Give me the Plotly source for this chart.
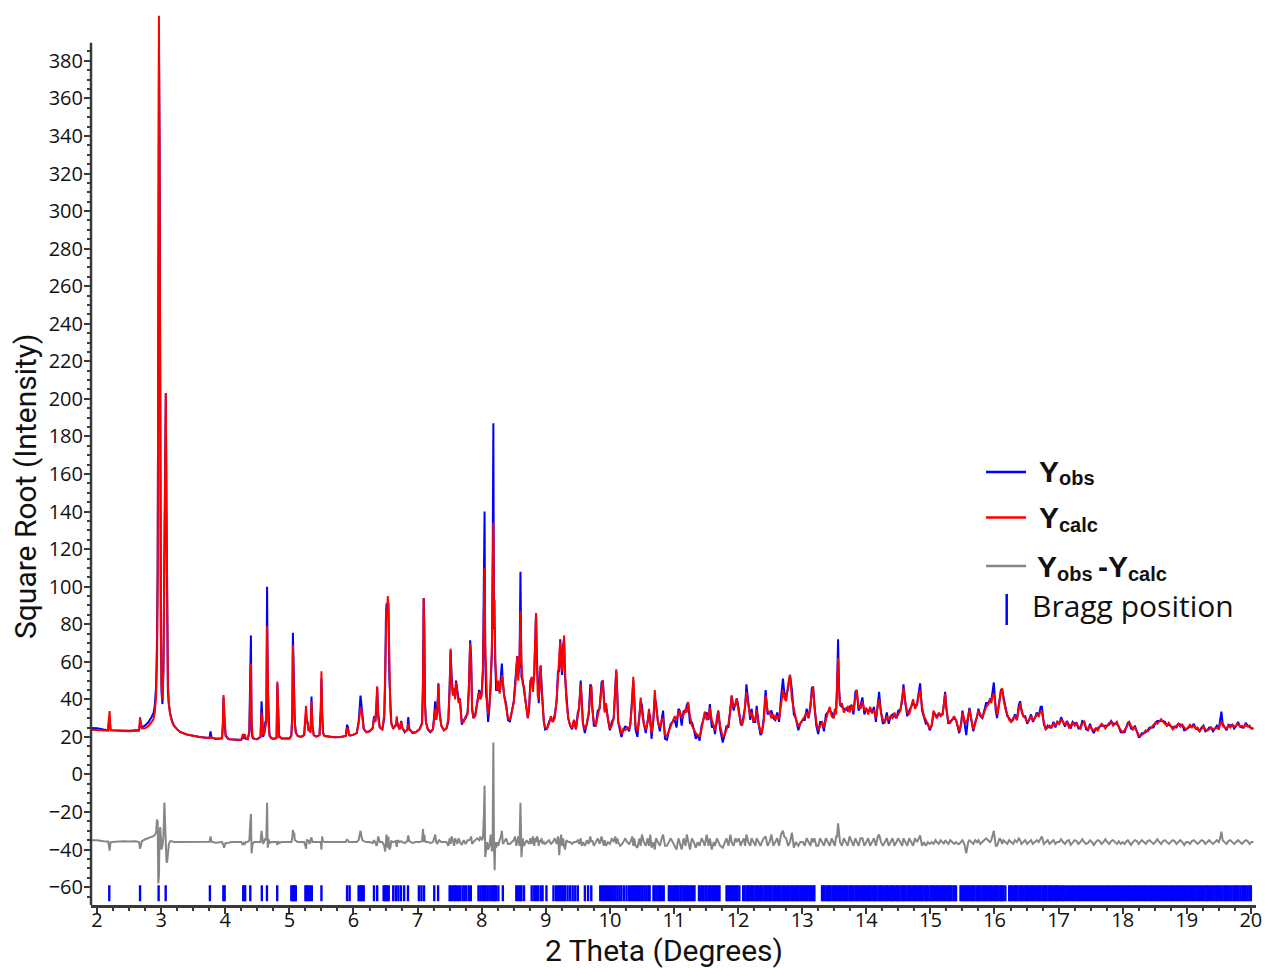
import plotly.graph_objects as go

# ---------------------------------------------------------------------------
# Rietveld refinement profile: 2-theta grid, calculated intensity and the
# observed-minus-calculated residual (sqrt-intensity units)
# ---------------------------------------------------------------------------
two_theta = [
    # 1.9 - 2.9
    1.905, 2.00, 2.10, 2.17, 2.185, 2.195, 2.21, 2.30, 2.40, 2.50,
    2.60, 2.655, 2.67, 2.685, 2.70, 2.75, 2.80, 2.85, 2.88, 2.90,
    # 2.9 - 3.3
    2.92, 2.935, 2.945, 2.955, 2.965, 2.975, 2.985, 2.995, 3.005, 3.02,
    3.035, 3.05, 3.062, 3.072, 3.082, 3.092, 3.105, 3.12, 3.14, 3.17,
    3.20, 3.25, 3.30,
    # 3.3 - 4.05
    3.40, 3.50, 3.60, 3.70, 3.755, 3.77, 3.785, 3.85, 3.90, 3.95,
    3.962, 3.972, 3.98, 3.992, 4.005, 4.05,
    # 4.05 - 5.0
    4.10, 4.20, 4.25, 4.275, 4.29, 4.305, 4.32, 4.35, 4.375, 4.39,
    4.40, 4.41, 4.425, 4.45, 4.50, 4.55, 4.565, 4.575, 4.59, 4.61,
    4.625, 4.64, 4.652, 4.662, 4.675, 4.69, 4.72, 4.77, 4.80, 4.812,
    4.825, 4.84, 4.88, 4.95, 5.00,
    # 5.0 - 6.0
    5.03, 5.045, 5.055, 5.065, 5.075, 5.085, 5.10, 5.13, 5.18, 5.23,
    5.25, 5.26, 5.272, 5.285, 5.30, 5.315, 5.33, 5.345, 5.36, 5.38,
    5.42, 5.47, 5.49, 5.50, 5.51, 5.525, 5.55, 5.60, 5.70, 5.80,
    5.88, 5.90, 5.915, 5.93, 5.95, 6.00,
    # 6.0 - 7.0
    6.05, 6.08, 6.095, 6.11, 6.125, 6.14, 6.16, 6.20, 6.25, 6.30,
    6.32, 6.34, 6.36, 6.37, 6.385, 6.41, 6.45, 6.48, 6.495, 6.505,
    6.515, 6.525, 6.535, 6.545, 6.56, 6.575, 6.59, 6.62, 6.66, 6.675,
    6.69, 6.72, 6.745, 6.76, 6.80, 6.84, 6.855, 6.87, 6.92, 6.97,
    # 7.0 - 8.0
    7.03, 7.07, 7.085, 7.095, 7.105, 7.115, 7.13, 7.16, 7.20, 7.24,
    7.26, 7.275, 7.29, 7.31, 7.325, 7.34, 7.37, 7.41, 7.45, 7.48,
    7.50, 7.515, 7.53, 7.55, 7.57, 7.585, 7.60, 7.62, 7.64, 7.66,
    7.69, 7.72, 7.75, 7.78, 7.80, 7.82, 7.835, 7.85, 7.87, 7.90,
    7.93, 7.96, 7.98,
    # 8.0 - 8.7
    8.00, 8.02, 8.035, 8.045, 8.055, 8.07, 8.085, 8.10, 8.12, 8.14,
    8.16, 8.172, 8.182, 8.192, 8.202, 8.212, 8.225, 8.24, 8.26, 8.28,
    8.30, 8.315, 8.33, 8.35, 8.38, 8.41, 8.44, 8.47, 8.50, 8.52,
    8.54, 8.555, 8.57, 8.59, 8.605, 8.62, 8.64, 8.66, 8.68, 8.70,
    # 8.7 - 9.5
    8.72, 8.74, 8.76, 8.78, 8.80, 8.82, 8.835, 8.848, 8.86, 8.875,
    8.89, 8.905, 8.92, 8.935, 8.95, 8.97, 8.99, 9.02, 9.05, 9.08,
    9.11, 9.14, 9.17, 9.19, 9.21, 9.225, 9.24, 9.255, 9.27, 9.285,
    9.30, 9.32, 9.35, 9.38, 9.41, 9.44, 9.47, 9.50,
    # 9.5 - 10.3
    9.52, 9.545, 9.56, 9.58, 9.61, 9.64, 9.67, 9.695, 9.71, 9.725,
    9.75, 9.78, 9.81, 9.84, 9.87, 9.89, 9.905, 9.92, 9.94, 9.97,
    10.00, 10.03, 10.06, 10.085, 10.10, 10.115, 10.13, 10.16, 10.18, 10.21,
    10.24, 10.27, 10.30,
    # 10.3 - 11.0
    10.32, 10.35, 10.365, 10.38, 10.40, 10.43, 10.46, 10.48, 10.50, 10.53,
    10.56, 10.59, 10.61, 10.63, 10.65, 10.68, 10.70, 10.72, 10.75, 10.78,
    10.81, 10.83, 10.86, 10.89, 10.92, 10.95, 10.98,
    # 11 - 12
    11.01, 11.04, 11.07, 11.09, 11.12, 11.15, 11.18, 11.20, 11.22, 11.25,
    11.28, 11.31, 11.34, 11.37, 11.40, 11.43, 11.46, 11.48, 11.51, 11.54,
    11.56, 11.59, 11.62, 11.64, 11.67, 11.69, 11.72, 11.76, 11.79, 11.82,
    11.85, 11.88, 11.90, 11.93, 11.96, 11.98,
    # 12 - 13
    12.01, 12.04, 12.06, 12.09, 12.11, 12.13, 12.16, 12.19, 12.21, 12.24,
    12.27, 12.29, 12.32, 12.35, 12.37, 12.40, 12.43, 12.46, 12.49, 12.52,
    12.55, 12.58, 12.61, 12.64, 12.67, 12.70, 12.72, 12.75, 12.78, 12.81,
    12.84, 12.87, 12.90, 12.94, 12.97,
    # 13 - 14
    13.01, 13.04, 13.07, 13.10, 13.13, 13.15, 13.17, 13.19, 13.22, 13.25,
    13.28, 13.31, 13.34, 13.37, 13.40, 13.43, 13.46, 13.49, 13.51, 13.53,
    13.545, 13.56, 13.575, 13.59, 13.62, 13.65, 13.68, 13.71, 13.74, 13.77,
    13.80, 13.83, 13.85, 13.88, 13.91, 13.94, 13.97,
    # 14 - 15
    14.00, 14.03, 14.06, 14.09, 14.12, 14.15, 14.18, 14.20, 14.23, 14.26,
    14.29, 14.32, 14.35, 14.38, 14.41, 14.44, 14.47, 14.50, 14.53, 14.56,
    14.58, 14.61, 14.64, 14.67, 14.70, 14.73, 14.76, 14.79, 14.82, 14.84,
    14.87, 14.90, 14.93, 14.96, 14.99,
    # 15 - 16
    15.02, 15.05, 15.08, 15.10, 15.13, 15.16, 15.19, 15.21, 15.23, 15.25,
    15.28, 15.31, 15.34, 15.37, 15.40, 15.43, 15.45, 15.48, 15.50, 15.53,
    15.56, 15.59, 15.61, 15.64, 15.67, 15.70, 15.73, 15.75, 15.78, 15.81,
    15.84, 15.87, 15.90, 15.93, 15.95, 15.97, 15.99,
    # 16 - 17
    16.02, 16.04, 16.06, 16.08, 16.10, 16.12, 16.14, 16.17, 16.20, 16.23,
    16.26, 16.29, 16.32, 16.35, 16.38, 16.40, 16.42, 16.45, 16.48, 16.51,
    16.54, 16.57, 16.60, 16.63, 16.66, 16.69, 16.72, 16.74, 16.77, 16.80,
    16.83, 16.86, 16.89, 16.92, 16.95, 16.98,
    # 17 - 18
    17.01, 17.04, 17.07, 17.10, 17.13, 17.16, 17.19, 17.22, 17.25, 17.28,
    17.31, 17.34, 17.37, 17.40, 17.43, 17.46, 17.49, 17.52, 17.55, 17.58,
    17.61, 17.64, 17.67, 17.70, 17.73, 17.76, 17.79, 17.82, 17.85, 17.88,
    17.91, 17.94, 17.97,
    # 18 - 19
    18.00, 18.03, 18.06, 18.08, 18.10, 18.13, 18.16, 18.19, 18.22, 18.25,
    18.27, 18.30, 18.33, 18.36, 18.39, 18.42, 18.45, 18.48, 18.51, 18.54,
    18.57, 18.60, 18.63, 18.66, 18.69, 18.72, 18.75, 18.78, 18.81, 18.84,
    18.87, 18.90, 18.93, 18.96, 18.99,
    # 19 - 20.05
    19.02, 19.05, 19.08, 19.11, 19.14, 19.17, 19.20, 19.23, 19.26, 19.29,
    19.32, 19.35, 19.38, 19.41, 19.44, 19.47, 19.50, 19.52, 19.54, 19.56,
    19.59, 19.62, 19.65, 19.68, 19.71, 19.74, 19.77, 19.80, 19.83, 19.86,
    19.89, 19.92, 19.95, 19.98, 20.01, 20.04,
]

y_calc = [
    23.8, 23.6, 23.4, 23.3, 30.0, 33.8, 23.6, 23.2, 23.1, 23.0,
    23.2, 23.5, 30.5, 27.5, 24.5, 24.6, 25.8, 27.8, 29.5, 33.0,
    41.5, 60, 100, 250, 404, 330, 150, 75, 48, 39.5,
    55, 110, 190, 203, 150, 80, 48, 38, 32, 28,
    26, 24, 22.5,
    21.3, 20.5, 20.0, 19.6, 19.4, 20.0, 19.5, 19.2, 19.0, 19.3,
    27.0, 42.3, 35.0, 26.0, 21.0, 19.0,
    18.6, 18.3, 18.5, 21.5, 20.0, 21.5, 19.0, 18.8, 22, 45,
    59, 30, 20.5, 19.0, 18.8, 20, 33, 30, 21, 22,
    26, 28, 79, 50, 27, 21, 19.3, 19.0, 19.5, 49.5,
    34, 20.5, 19.2, 19.0, 19.2,
    20.5, 30, 69, 40, 38, 27, 22, 20.5, 20.0, 21,
    30, 36.5, 28, 27, 23, 25, 22, 39, 26, 21,
    20.2, 21, 35, 55, 32, 22, 20.5, 20.2, 19.8, 20.0,
    20.5, 25, 24, 21, 20.8, 21.2,
    22, 27, 31, 36, 34, 28, 24, 22.5, 23, 25,
    30, 28, 38, 47, 30, 25, 24, 32, 55, 80,
    87, 84, 95, 88, 55, 35, 27, 24.5, 26, 31,
    26, 24, 28, 25, 23, 23.5, 27, 24, 22.5, 22.5,
    24, 27, 45, 94, 75, 38, 28, 24, 23, 24,
    30, 35, 29, 36, 48, 33, 26, 23.5, 24.5, 30,
    45, 67, 50, 42, 46, 40, 49, 44, 38, 40,
    28, 28, 31, 32, 45, 70, 60, 36, 30, 31,
    37, 44, 40,
    42, 55, 90, 110, 70, 45, 38, 32, 37, 45,
    70, 110, 134, 80, 93, 60, 48, 45, 50, 43,
    48, 53, 50, 42, 36, 30, 29, 33, 38, 45,
    60, 63, 50, 60, 87, 60, 48, 47, 40, 34,
    30, 36, 48, 52, 44, 55, 72, 86, 60, 42,
    40, 48, 58, 45, 36, 28, 25, 24.5, 27, 31,
    28, 30, 40, 52, 62, 71, 58, 55, 66, 74,
    56, 40, 30, 26, 25, 29, 24, 32,
    36, 48, 40, 27, 24, 27, 33, 45, 47, 35,
    28, 26, 32, 36, 46, 50, 40, 33, 38, 29,
    24.5, 26, 30, 44, 56, 42, 28, 25, 21.5, 24,
    23.5, 25, 24,
    27, 40, 52, 38, 26, 23, 30, 41, 33, 27,
    24, 28, 35, 27, 22, 30, 45, 36, 28, 25,
    29, 30, 21, 20.5, 23, 25, 28,
    31, 29, 33, 34, 30, 32, 35, 33, 38.5, 31,
    26, 24, 22, 21, 20, 24, 30, 33.5, 29, 31,
    35.5, 29, 26, 23.5, 28, 34, 26, 20, 21, 24,
    27, 34, 42, 36, 37, 40.5,
    33, 29, 26, 30, 38, 44, 37, 31, 33, 28,
    30, 34.5, 27, 23, 22, 28, 42, 34, 33, 30,
    32, 29, 31, 30, 37, 45, 41, 39, 48, 53,
    40, 35, 30, 25.5, 27,
    29, 31, 33, 30, 38, 44, 46.8, 36, 28, 23.5,
    26, 28, 25, 30, 33, 36, 31, 30, 35, 32,
    45, 62, 45, 37, 38, 33, 35, 36, 33, 37,
    34, 42, 45, 36, 35, 39, 34,
    35, 32, 36, 33, 34, 30, 37, 40, 33, 29,
    28, 31, 29, 31, 30, 33, 30, 32, 34, 41,
    46, 38, 33, 32, 36, 40, 35, 37, 42, 45,
    36, 31, 29, 27, 24.5,
    26, 34, 31, 30, 33, 31, 32, 38, 43, 35,
    28, 27.5, 29, 31, 29, 26, 23, 27, 33, 29,
    27, 31, 34.5, 29, 24, 27, 31, 34, 32, 30,
    33, 36, 37, 40, 38, 42, 43,
    36, 32, 35, 40, 44, 46, 40, 35, 32, 29,
    28, 30, 31, 29, 35, 38, 35, 31, 30, 28,
    29, 31, 29, 30, 32, 31, 34, 33, 28, 24,
    25, 26, 25, 27, 26, 28,
    27, 29, 28, 26.5, 28, 25, 26, 28, 26, 27,
    25.5, 24.5, 27, 28, 25, 24, 26, 24, 23.5, 24.5,
    23.5, 25, 27, 26, 24.5, 26, 27.5, 28, 26, 27,
    28, 25, 23.5,
    22.5, 23.5, 25, 26.5, 28, 26, 24, 25, 22.5, 21,
    20.2, 21, 22, 23.5, 23, 24, 25, 26, 27.5, 27,
    28.5, 29.5, 28, 27, 26, 27.5, 25.5, 24, 25, 26,
    27, 25.5, 26.5, 25, 24,
    25, 26.5, 25, 26, 24.5, 25, 23, 24, 25.5, 24,
    23.5, 24, 25, 24, 24.5, 25, 24, 27, 28, 26,
    25, 24.5, 26, 25, 26.5, 25.5, 26, 27, 25.5, 26,
    25, 26.5, 25.5, 26, 24.5, 24.5,
]

y_resid = [
    1.0, 1.0, 0.5, 0.3, -2.0, -4.5, 0.0, 0.3, 0.4, 0.3,
    0.4, 0.0, -3.5, -1.5, 0.5, 1.5, 2.0, 2.8, 3.2, 3.8,
    5, 12, 11, -22, -18, 5, 8, 3, -4, -2,
    3, 21, 8, 0, -10, -11, -4, -1, 0.5, 0.5,
    0, 0, 0,
    0, 0, 0, 0, 0.2, 3.0, 0.2, -0.3, 0, 0,
    -1, -1.5, -3, -2, -0.5, -0.3,
    0, 0, 0, -1.5, -0.5, -1, 0, 0, 1, 10,
    15, -6, -1, 0, 0, 0, 6, 3, -1, 0.5,
    2, 1, 21, -3, 1.5, -0.5, 0, 0, 0, -1.5,
    0.5, -0.5, 0, 0, 0,
    0, 2, 6.5, 3, 5, 1, 0.5, 0, 0, 0,
    -2, -3.5, 1, 1, 0.5, -1, 1, 2.5, 0, 0,
    0, 0, 0, -4, 3, 0.3, 0, 0, 0, 0,
    0, 1.5, 1, 0, 0, 0,
    0, 1, 3, 6, 3, 1, 0.5, 0, 0, -0.5,
    1, 0, -2, -1, 3, 0, 0, -2, -5, 2,
    4, 0, -3, 3, -4, -3, 0.5, 0, 0.5, -2.5,
    1, 0, 0.5, 0, -0.5, 0.5, 3.5, 0.5, -0.5, 0,
    0, 0.5, 7, 0, 4, 1, 0, 0, -0.5, 0,
    2, 4, 0, -1, 0.5, 1, 0, 0, 0, -2,
    2, -1, 3, 1, -2, 2, 1, -1, 2, 0,
    -1.5, 1, -1, 1, 1, 1.5, 3, -1, 0, 1,
    2, 1, 3,
    1, 2, 15, 30, -8, -3, 0, -4, -2, 4,
    -5, 5, 53, -2, -15, 0, -3, 0, -2, 1,
    3, 6, -1, 0, 2, -1, -1, 0, 1, 3,
    -2, 0, 3, -2, 21, -8, 2, -2, 0, 1,
    0, -1, 2, -1, 3, -2, 2, 0, 3, 2,
    -2, 1, 0, 2, -1, 0, -1, 0, 1, -1,
    0, 2, -1, 3, -7, 1, 4, -2, 2, -2,
    -4, 1, 0, 0, -1, 0, 0, 1,
    -1, 2, -2, 0, -2, 1, -1, 3, 0, 1,
    -2, 0, 2, -1, 3, 0, -2, 1, -2, 0,
    -1, 2, 0, 3, -1, 2, 0, -2, -1.5, 0,
    2, 0, -1,
    0, 3, -2, 2, -2, -3, 2, -2, 4, 0,
    -2, 2, -2, 4, -3, 0, -4, 2, 0, -2,
    2, 4, -2, -2, 0, 2, 0,
    -2, -4, 2, 0, -4, 2, -2, 4, 0, -4,
    2, 0, -3, 0, -2, 2, 0, -2, 4, -2,
    2, -4, 0, -2, 2, 0, -2, -3, 0, 2,
    -2, 4, 0, -2, 2, 0,
    2, -2, 0, 2, -2, 4, 0, -2, 2, 0,
    -2, 2, 0, -2, 0, 2, 3, -2, 0, 4,
    -2, 0, 2, -2, 4, 6, 3, 2, -2, 0,
    5, -3, 0, -2, 0,
    0, -2, 2, 0, -2, 2, 0, 2, -2, -2,
    2, 0, -2, 2, 0, -2, 2, 0, -2, 3,
    3, 10, 2, 0, -2, 2, 0, -2, 3, 0,
    -2, 2, 0, -2, 2, 2, -2,
    0, 2, -2, 0, 2, -2, 3, 4, 0, -2,
    0, 2, -2, 0, 2, -2, 0, 2, 0, -2,
    2, 0, -2, 2, 0, -2, 2, 0, 2, 3.5,
    -2, 0, -2, 0, -1,
    0, -1, 1, 0, -1, 1, 0, -1, 1, 0,
    -1, 1, 0, -1, 0, -1, -1, 0, 1, -1,
    -6, 0, 1, 0, -1, 1, 0, 1, -1, 0,
    1, 2, 1, 0, 1, 3, 6,
    -2, -2, 0, 2, 1, -1, 1, 0, -1, 1,
    0, -1, 1, 0, 2, 1, -1, 0, 1, -1,
    0, 1, -1, 0, 1, 0, 2, 3, -1, 0,
    1, -1, 0, 1, -1, 0,
    0, 1.5, 0, -1, 0.5, 1, -1.5, 0, 1, 0.5,
    -1, 0, 1.5, 0, -1, -0.5, 1, 0, -1.5, 0,
    1, 0.5, -1, 0, 1.5, 0, -1, 0.5, 1, 0,
    -1, 0.5, -1,
    0, -1, 0.5, 1, 0, -1.5, 0, 1, 0.5, -1,
    0, 1, 0, -1, 0.5, 1, 0, -1, 0, 1.5,
    0, -1, 0.5, 1, 0, -1, 0, 1, 0.5, -1,
    0, 1, 0, -1.5, 0,
    0, -1, 0.5, 1, 0, -1, 0, 1, 0.5, -1,
    0, 1, 0, -1, 0, 1, 0, 2, 5.5, 1,
    0, -1, 0.5, 1, 0, -1, 0, 1, 0, -1,
    0, 1, 0.5, -1, 0, 0,
]

# Reflection (Bragg) positions, degrees 2-theta
bragg_positions = [
    2.19, 2.67, 2.96, 3.07, 3.76, 3.97, 3.99, 4.28, 4.30, 4.31,
    4.39, 4.57, 4.65, 4.81, 5.03, 5.05, 5.07, 5.08, 5.10, 5.25,
    5.27, 5.29, 5.32, 5.35, 5.50, 5.90, 5.94, 6.08, 6.10, 6.12,
    6.14, 6.16, 6.32, 6.37, 6.47, 6.49, 6.51, 6.53, 6.55, 6.62,
    6.66, 6.70, 6.74, 6.79, 6.85, 7.02, 7.06, 7.10, 7.26, 7.32,
    7.50, 7.52, 7.55, 7.58, 7.60, 7.63, 7.66, 7.70, 7.73, 7.76,
    7.80, 7.83, 7.95, 7.98, 8.01, 8.04, 8.06, 8.09, 8.12, 8.15,
    8.18, 8.20, 8.22, 8.26, 8.33, 8.54, 8.57, 8.60, 8.62, 8.66,
    8.78, 8.82, 8.85, 8.88, 8.92, 8.95, 9.01, 9.12, 9.16, 9.19,
    9.22, 9.25, 9.28, 9.30, 9.34, 9.38, 9.42, 9.46, 9.50, 9.61,
    9.66, 9.71, 9.85, 9.88, 9.91, 9.94, 9.97, 10.00, 10.03, 10.06,
    10.09, 10.12, 10.15, 10.18, 10.22, 10.26, 10.30,
    10.33, 10.36, 10.38, 10.41, 10.44, 10.46, 10.49, 10.51, 10.54, 10.57,
    10.60, 10.62, 10.68, 10.70, 10.73, 10.76, 10.78, 10.81, 10.84, 10.92,
    10.94, 10.97, 11.00,
    11.02, 11.05, 11.07, 11.10, 11.12, 11.15, 11.17, 11.20, 11.22, 11.25,
    11.27, 11.30, 11.32, 11.39, 11.41, 11.44, 11.46, 11.49, 11.51, 11.54,
    11.56, 11.59, 11.61, 11.64, 11.66, 11.69, 11.71, 11.82, 11.84, 11.87,
    11.89, 11.92, 11.94, 11.97, 11.99, 12.02,
    12.08, 12.10, 12.13, 12.15, 12.17, 12.20, 12.22, 12.24, 12.27, 12.29,
    12.31, 12.34, 12.36, 12.38, 12.41, 12.43, 12.45, 12.48, 12.50, 12.52,
    12.55, 12.57, 12.59, 12.62, 12.64, 12.66, 12.69, 12.71, 12.73, 12.76,
    12.78, 12.80, 12.83, 12.85, 12.87, 12.90, 12.92, 12.94, 12.97, 12.99,
    13.01, 13.04, 13.06, 13.08, 13.11, 13.13, 13.15, 13.18, 13.19, 13.31,
    13.33, 13.35, 13.38, 13.40, 13.42, 13.44, 13.47, 13.49, 13.51, 13.53,
    13.56, 13.58, 13.60, 13.62, 13.65, 13.67, 13.69, 13.71, 13.74, 13.76,
    13.78, 13.80, 13.83, 13.85, 13.87, 13.89, 13.92, 13.94, 13.96, 13.98,
    14.01, 14.03, 14.05, 14.07, 14.10, 14.12, 14.14, 14.16, 14.19, 14.21,
    14.23, 14.25, 14.28, 14.30, 14.32, 14.34, 14.37, 14.39, 14.41, 14.43,
    14.46, 14.48, 14.50, 14.52, 14.55, 14.57, 14.59, 14.61, 14.64, 14.66,
    14.68, 14.70, 14.73, 14.75, 14.77, 14.79, 14.82, 14.84, 14.86, 14.88,
    14.91, 14.93, 14.95, 14.97,
    15.00, 15.02, 15.04, 15.06, 15.09, 15.11, 15.13, 15.15, 15.18, 15.20,
    15.22, 15.24, 15.27, 15.29, 15.31, 15.33, 15.36, 15.38, 15.40, 15.47,
    15.49, 15.51, 15.54, 15.56, 15.58, 15.60, 15.63, 15.65, 15.67, 15.69,
    15.72, 15.74, 15.76, 15.78, 15.81, 15.83, 15.85, 15.87, 15.90, 15.92,
    15.94, 15.96, 15.99,
    16.01, 16.03, 16.05, 16.08, 16.10, 16.12, 16.14, 16.17, 16.23, 16.25,
    16.27, 16.30, 16.32, 16.34, 16.36, 16.39, 16.41, 16.43, 16.45, 16.48,
    16.50, 16.52, 16.54, 16.57, 16.59, 16.61, 16.63, 16.66, 16.68, 16.70,
    16.72, 16.75, 16.77, 16.79, 16.81, 16.84, 16.86, 16.88, 16.90, 16.93,
    16.95, 16.97, 16.99,
    17.01, 17.04, 17.07, 17.09, 17.12, 17.15, 17.18, 17.21, 17.23, 17.26,
    17.29, 17.32, 17.35, 17.37, 17.40, 17.43, 17.46, 17.49, 17.51, 17.54,
    17.57, 17.60, 17.63, 17.65, 17.68, 17.71, 17.74, 17.77, 17.79, 17.82,
    17.85, 17.88, 17.91, 17.93, 17.96, 17.99,
    18.02, 18.05, 18.07, 18.10, 18.13, 18.16, 18.19, 18.21, 18.24, 18.27,
    18.30, 18.33, 18.35, 18.38, 18.41, 18.44, 18.47, 18.49, 18.52, 18.55,
    18.58, 18.61, 18.63, 18.66, 18.69, 18.72, 18.75, 18.77, 18.80, 18.83,
    18.86, 18.89, 18.91, 18.94, 18.97,
    19.00, 19.03, 19.05, 19.08, 19.11, 19.14, 19.17, 19.19, 19.22, 19.25,
    19.28, 19.31, 19.33, 19.36, 19.39, 19.42, 19.45, 19.47, 19.50, 19.53,
    19.56, 19.59, 19.61, 19.64, 19.67, 19.70, 19.73, 19.75, 19.78, 19.81,
    19.84, 19.87, 19.89, 19.92, 19.95, 19.98, 20.00,
]

y_major_ticks = list(range(-60, 381, 20))

# ---------------------------------------------------------------------------
assert len(two_theta) == len(y_calc) == len(y_resid), (
    len(two_theta), len(y_calc), len(y_resid))

DIFF_OFFSET = -36.0          # baseline of the difference curve
BRAGG_LOW, BRAGG_HIGH = -67.5, -59.0

y_obs = [c + r for c, r in zip(y_calc, y_resid)]
y_diff = [r + DIFF_OFFSET for r in y_resid]

bragg_x, bragg_y = [], []
for p in bragg_positions:
    bragg_x += [p, p, None]
    bragg_y += [BRAGG_LOW, BRAGG_HIGH, None]

# page geometry (pixels)
W, H = 1266, 968
ML, MR, MT, MB = 91, 10, 15, 63
PW, PH = W - ML - MR, H - MT - MB

X_RANGE = [1.905, 20.08]
Y_RANGE = [-69.5, 404.4]
Y_AXIS_TOP = 389.6


def fx(px):
    return (px - ML) / PW


def fy(py):
    return (H - MB - py) / PH


BLUE, RED, GREY = "#0000ff", "#ff0000", "#868686"
AXIS = "#3a3a3a"
TXT = "#111111"
SANS = "Open Sans, Noto Sans, sans-serif"
TITLE = "Roboto, Open Sans, sans-serif"
BOLD = "Liberation Sans, Arial, sans-serif"

fig = go.Figure()
fig.add_trace(go.Scatter(x=two_theta, y=y_obs, mode="lines",
                         line=dict(color=BLUE, width=2), name="Yobs"))
fig.add_trace(go.Scatter(x=two_theta, y=y_calc, mode="lines",
                         line=dict(color=RED, width=2), name="Ycalc"))
fig.add_trace(go.Scatter(x=two_theta, y=y_diff, mode="lines",
                         line=dict(color=GREY, width=2), name="Yobs - Ycalc"))
fig.add_trace(go.Scatter(x=bragg_x, y=bragg_y, mode="lines",
                         line=dict(color=BLUE, width=2.4), name="Bragg position"))

fig.update_layout(
    width=W, height=H,
    margin=dict(l=ML, r=MR, t=MT, b=MB),
    paper_bgcolor="white", plot_bgcolor="white",
    showlegend=False,
    font=dict(family=SANS, size=20, color=TXT),
)

fig.update_xaxes(
    range=X_RANGE, tickmode="linear", tick0=2, dtick=1, automargin=False,
    ticks="outside", ticklen=6, tickwidth=2, tickcolor=AXIS,
    ticklabelstandoff=-11,
    showline=True, linecolor=AXIS, linewidth=2.5,
    showgrid=False, zeroline=False,
    tickfont=dict(family=SANS, size=20, color=TXT),
    minor=dict(tick0=2, dtick=0.25, ticks="outside", ticklen=3,
               tickwidth=1.5, tickcolor=AXIS, showgrid=False),
)

y_minor_ticks = [v for v in range(-65, 390, 5) if v % 20]
fig.update_yaxes(
    range=Y_RANGE, tickmode="array", tickvals=y_major_ticks, automargin=False,
    ticks="outside", ticklen=6, tickwidth=2, tickcolor=AXIS,
    ticklabelstandoff=-3,
    showline=False, showgrid=False, zeroline=False,
    tickfont=dict(family=SANS, size=20, color=TXT),
    minor=dict(tickmode="array", tickvals=y_minor_ticks, ticks="outside",
               ticklen=3, tickwidth=1.5, tickcolor=AXIS, showgrid=False),
)

# y axis spine stops just above the top labelled tick
fig.add_shape(type="line", xref="paper", yref="y", x0=0, x1=0,
              y0=Y_RANGE[0], y1=Y_AXIS_TOP, line=dict(color=AXIS, width=2.5))

annotations = []


def label(text, px, py, size, family=SANS, xanchor="left", angle=0):
    annotations.append(dict(
        text=text, x=fx(px), y=fy(py), xref="paper", yref="paper",
        xanchor=xanchor, yanchor="middle", showarrow=False, textangle=angle,
        borderpad=0, font=dict(family=family, size=size, color=TXT)))


# axis titles
label("2 Theta (Degrees)", 664, 950, 30, TITLE, xanchor="center")
label("Square Root (Intensity)", 25, 487, 30, TITLE, xanchor="center", angle=-90)

# legend
for color, py in ((BLUE, 472), (RED, 517.5), (GREY, 566)):
    fig.add_shape(type="line", xref="paper", yref="paper",
                  x0=fx(986), x1=fx(1026), y0=fy(py), y1=fy(py),
                  line=dict(color=color, width=2.5))
fig.add_shape(type="line", xref="paper", yref="paper",
              x0=fx(1006.7), x1=fx(1006.7), y0=fy(594), y1=fy(625),
              line=dict(color=BLUE, width=2.5))

label("<b>Y</b>", 1038, 471.3, 30, BOLD)
label("<b>obs</b>", 1058, 478.3, 20, BOLD)
label("<b>Y</b>", 1038, 517.6, 30, BOLD)
label("<b>calc</b>", 1058, 524.6, 20, BOLD)
label("<b>Y</b>", 1036, 566.6, 30, BOLD)
label("<b>obs</b>", 1056, 573.6, 20, BOLD)
label("<b>-</b>", 1102.5, 566.6, 30, BOLD, xanchor="center")
label("<b>Y</b>", 1107, 566.6, 30, BOLD)
label("<b>calc</b>", 1127, 573.6, 20, BOLD)
label("Bragg position", 1031, 605, 30)

fig.update_layout(annotations=annotations)

fig.write_html("out.html")
